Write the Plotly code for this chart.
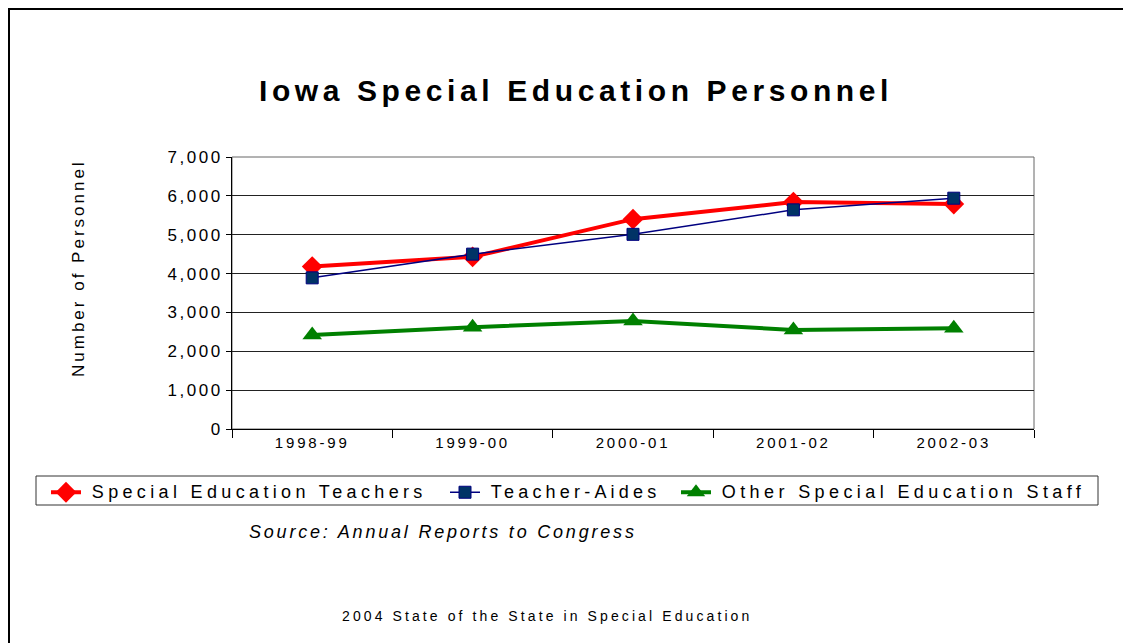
import plotly.graph_objects as go

years = ["1998-99", "1999-00", "2000-01", "2001-02", "2002-03"]
teachers = [4180, 4430, 5400, 5840, 5790]
aides = [3890, 4500, 5010, 5640, 5940]
other = [2420, 2620, 2780, 2550, 2590]
y_ticks = [0, 1000, 2000, 3000, 4000, 5000, 6000, 7000]
series_names = ["Special Education Teachers", "Teacher-Aides", "Other Special Education Staff"]

FONT = "Liberation Sans, Arial, sans-serif"
OFF = 8  # browser default body margin
W, H = 1131 - OFF, 643 - OFF
L, R, T, B = 232 - OFF, 97, 157 - OFF, 214
PW, PH = W - L - R, H - T - B

def px_x(p):
    return (p - OFF - L) / PW

def px_y(p):
    return (H - B - (p - OFF)) / PH

def sp(text, s, size=None):
    fs = f"font-size:{size}px;" if size else ""
    return f'<span style="{fs}letter-spacing:{s}px">{text}</span>'

LEAD = sp("&nbsp;", 3, 10)
legend_labels = [
    LEAD + sp(series_names[0], 4.35, 18),
    LEAD + sp(series_names[1], 4.2, 18),
    LEAD + sp(series_names[2], 4.4, 18),
]
legend_x_px = [46, 445, 676]

fig = go.Figure()
fig.add_trace(go.Scatter(
    x=years, y=teachers, mode="lines+markers", name=legend_labels[0], legend="legend",
    line=dict(color="#FF0000", width=4),
    marker=dict(symbol="diamond", size=16, color="#FF0000"),
))
fig.add_trace(go.Scatter(
    x=years, y=aides, mode="lines+markers", name=legend_labels[1], legend="legend2",
    line=dict(color="#000080", width=1.5),
    marker=dict(symbol="square", size=12, color="#003366", line=dict(color="#000080", width=1)),
))
fig.add_trace(go.Scatter(
    x=years, y=other, mode="lines+markers", name=legend_labels[2], legend="legend3",
    line=dict(color="#008000", width=4),
    marker=dict(symbol="triangle-up", size=17, color="#008000"),
))

def leg(xp):
    return dict(
        orientation="h", x=px_x(xp), y=px_y(476), xanchor="left", yanchor="top",
        borderwidth=0, bgcolor="rgba(0,0,0,0)",
        font=dict(size=15, family=FONT), itemwidth=30, tracegroupgap=0,
    )

fig.update_layout(
    width=W, height=H,
    margin=dict(l=L, r=R, t=T, b=B),
    paper_bgcolor="white", plot_bgcolor="white",
    font=dict(family=FONT, color="black"),
    showlegend=True,
    legend=leg(legend_x_px[0]),
    legend2=leg(legend_x_px[1]),
    legend3=leg(legend_x_px[2]),
    xaxis=dict(
        type="category", range=[-0.5, 4.5], showgrid=False,
        showline=True, linecolor="black", linewidth=1,
        ticks="outside", tickson="boundaries", ticklen=8, tickcolor="black",
        tickfont=dict(size=15, family=FONT),
        ticktext=[sp(y, 2.8) for y in years], tickvals=years,
    ),
    yaxis=dict(
        range=[0, 7000], tickvals=y_ticks,
        ticktext=[sp(f"{v:,}", 2.5) for v in y_ticks],
        showgrid=True, gridcolor="#222222", gridwidth=1,
        showline=True, linecolor="black", linewidth=1,
        ticks="outside", ticklen=5, tickcolor="black",
        tickfont=dict(size=17, family=FONT), zeroline=False,
    ),
)

# plot area frame (top/right)
fig.add_shape(type="rect", xref="paper", yref="paper", x0=0, x1=1, y0=0, y1=1,
              line=dict(color="#666666", width=1), layer="below")
# legend frame
fig.add_shape(type="rect", xref="paper", yref="paper",
              x0=px_x(36), x1=px_x(1098), y0=px_y(505), y1=px_y(476),
              line=dict(color="#333333", width=1), layer="below")
# outer page border (left and top edges)
fig.add_shape(type="line", xref="paper", yref="paper",
              x0=px_x(9), x1=px_x(9), y0=px_y(643), y1=px_y(9),
              line=dict(color="black", width=2))
fig.add_shape(type="line", xref="paper", yref="paper",
              x0=px_x(8), x1=px_x(1131), y0=px_y(9), y1=px_y(9),
              line=dict(color="black", width=2))

fig.add_annotation(text=sp("<b>Iowa Special Education Personnel</b>", 4.6),
                   xref="paper", yref="paper", x=px_x(576), y=px_y(90),
                   xanchor="center", yanchor="middle",
                   showarrow=False, font=dict(size=30, family=FONT))
fig.add_annotation(text=sp("Number of Personnel", 3.0), textangle=-90,
                   xref="paper", yref="paper", x=px_x(78), y=px_y(268),
                   xanchor="center", yanchor="middle",
                   showarrow=False, font=dict(size=17, family=FONT))
fig.add_annotation(text=sp("<i>Source: Annual Reports to Congress</i>", 2.8),
                   xref="paper", yref="paper", x=px_x(247), y=px_y(532),
                   xanchor="left", yanchor="middle",
                   showarrow=False, font=dict(size=18, family=FONT))
fig.add_annotation(text=sp("2004 State of the State in Special Education", 3.1),
                   xref="paper", yref="paper", x=px_x(547), y=px_y(616),
                   xanchor="center", yanchor="middle",
                   showarrow=False, font=dict(size=14, family=FONT))

fig.write_html("out.html")
